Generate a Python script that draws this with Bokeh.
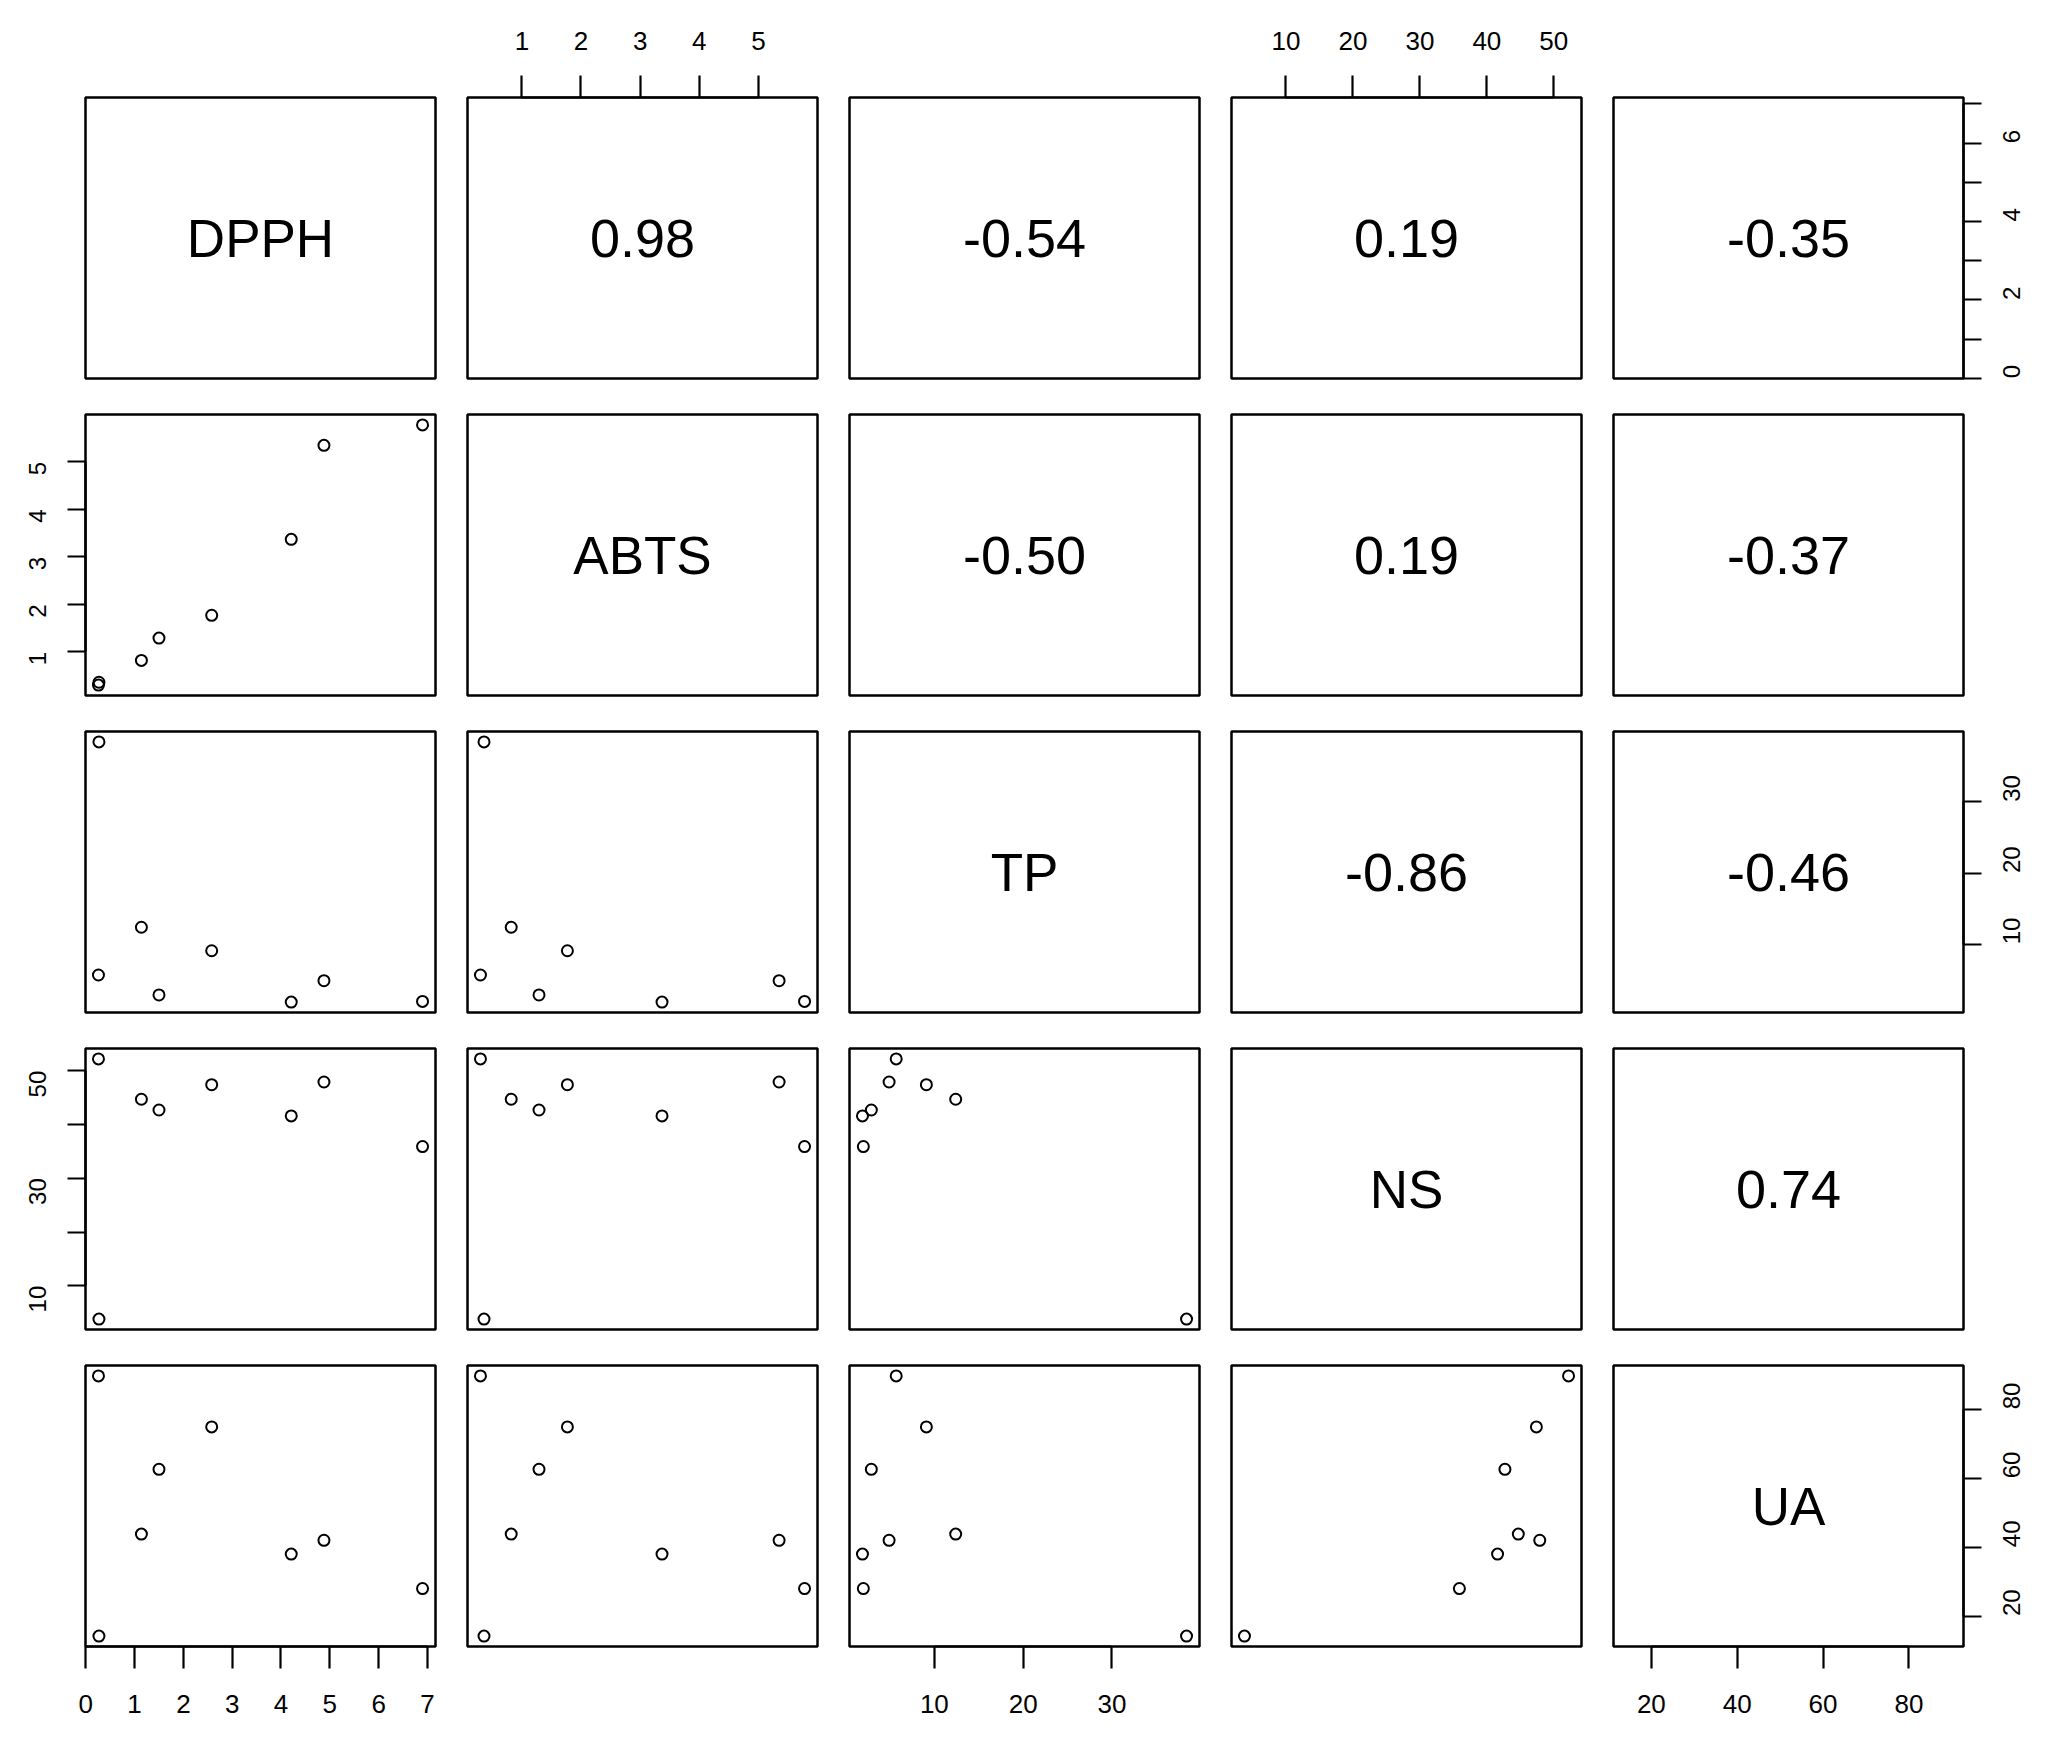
import math
from bokeh.plotting import figure
from bokeh.layouts import gridplot
from bokeh.models import LinearAxis, FixedTicker, Range1d
from bokeh.core.properties import value
from bokeh.embed import file_html
from bokeh.resources import INLINE

# ---- data (8 samples) ----
names = ["DPPH", "ABTS", "TP", "NS", "UA"]
DPPH = [0.27, 0.26, 1.14, 1.50, 2.58, 4.21, 4.88, 6.90]
ABTS = [0.36, 0.30, 0.82, 1.29, 1.77, 3.37, 5.35, 5.78]
TP = [38.4, 5.7, 12.4, 2.9, 9.1, 1.9, 4.9, 2.0]
NS = [3.8, 52.2, 44.7, 42.7, 47.4, 41.6, 47.9, 35.9]
UA = [14.2, 89.7, 43.8, 62.6, 74.9, 38.0, 42.0, 28.0]
data = {"DPPH": DPPH, "ABTS": ABTS, "TP": TP, "NS": NS, "UA": UA}

# correlation labels shown in the upper panels (row, col)
corr_pairs = [(0, 1), (0, 2), (0, 3), (0, 4), (1, 2), (1, 3), (1, 4), (2, 3), (2, 4), (3, 4)]
corr_labels = ["0.98", "-0.54", "0.19", "-0.35", "-0.50", "0.19", "-0.37", "-0.86", "-0.46", "0.74"]

# tick values per variable
ticks = {
    "DPPH": [0, 1, 2, 3, 4, 5, 6, 7],
    "ABTS": [1, 2, 3, 4, 5],
    "TP": [10, 20, 30],
    "NS": [10, 20, 30, 40, 50],
    "UA": [20, 40, 60, 80],
}
# labels R dropped for overlap, per (side, variable)
hidden_labels = {
    ("right", "DPPH"): [1, 3, 5, 7],
    ("left", "NS"): [20, 40],
}

FONT = "Liberation Sans"
FW, FH = 350, 281
GAPX, GAPY = 16, 18


def rng(v):
    lo, hi = min(v), max(v)
    r = hi - lo
    return Range1d(lo - 0.04 * r, hi + 0.04 * r)


def make_axis(var, side):
    t = ticks[var]
    hid = hidden_labels.get((side, var), [])
    vertical = side in ("left", "right")
    ax = LinearAxis(
        ticker=FixedTicker(ticks=t, minor_ticks=[]),
        bounds=(t[0], t[-1]),
        major_tick_in=0, major_tick_out=18 if vertical else 22,
        minor_tick_in=0, minor_tick_out=0,
        axis_line_width=2.2, axis_line_color="black",
        major_tick_line_width=2.2, major_tick_line_color="black",
        major_label_text_font=FONT,
        major_label_text_font_size="24px" if vertical else "26px",
        major_label_text_color="black",
        major_label_standoff=30 if vertical else 26,
        major_label_overrides={k: "" for k in hid},
    )
    if vertical:
        ax.major_label_orientation = math.pi / 2
    return ax


n = len(names)
rows = []
corr_map = dict(zip(corr_pairs, corr_labels))
for i in range(n):
    row = []
    for j in range(n):
        xv, yv = names[j], names[i]
        p = figure(
            frame_width=FW, frame_height=FH,
            x_range=rng(data[xv]), y_range=rng(data[yv]),
            x_axis_location=None, y_axis_location=None,
            toolbar_location=None, output_backend="svg",
            min_border_left=85 if j == 0 else GAPX,
            min_border_right=80 if j == n - 1 else GAPX,
            min_border_top=97 if i == 0 else GAPY,
            min_border_bottom=82 if i == n - 1 else GAPY,
            background_fill_color="white", border_fill_color="white",
            outline_line_color="black", outline_line_width=2.5,
        )
        p.grid.visible = False
        xr, yr = p.x_range, p.y_range
        cx = (xr.start + xr.end) / 2
        cy = (yr.start + yr.end) / 2
        if i == j:
            p.text(x=[cx], y=[cy], text=[names[i]], text_align="center",
                   text_baseline="middle", text_font=value(FONT),
                   text_font_size="53px", text_color="black")
        elif j > i:
            p.text(x=[cx], y=[cy], text=[corr_map[(i, j)]], text_align="center",
                   text_baseline="middle", text_font=value(FONT),
                   text_font_size="54px", text_color="black")
        else:
            p.scatter(x=data[xv], y=data[yv], marker="circle", size=11,
                      fill_color=None, line_color="black", line_width=2)
        # axes, alternating as in R's pairs()
        if i == 0 and j % 2 == 1:
            p.add_layout(make_axis(xv, "above"), "above")
        if i == n - 1 and j % 2 == 0:
            p.add_layout(make_axis(xv, "below"), "below")
        if j == 0 and i % 2 == 1:
            p.add_layout(make_axis(yv, "left"), "left")
        if j == n - 1 and i % 2 == 0:
            p.add_layout(make_axis(yv, "right"), "right")
        row.append(p)
    rows.append(row)

grid = gridplot(rows, toolbar_location=None)
open("out.html", "w").write(file_html(grid, INLINE))
